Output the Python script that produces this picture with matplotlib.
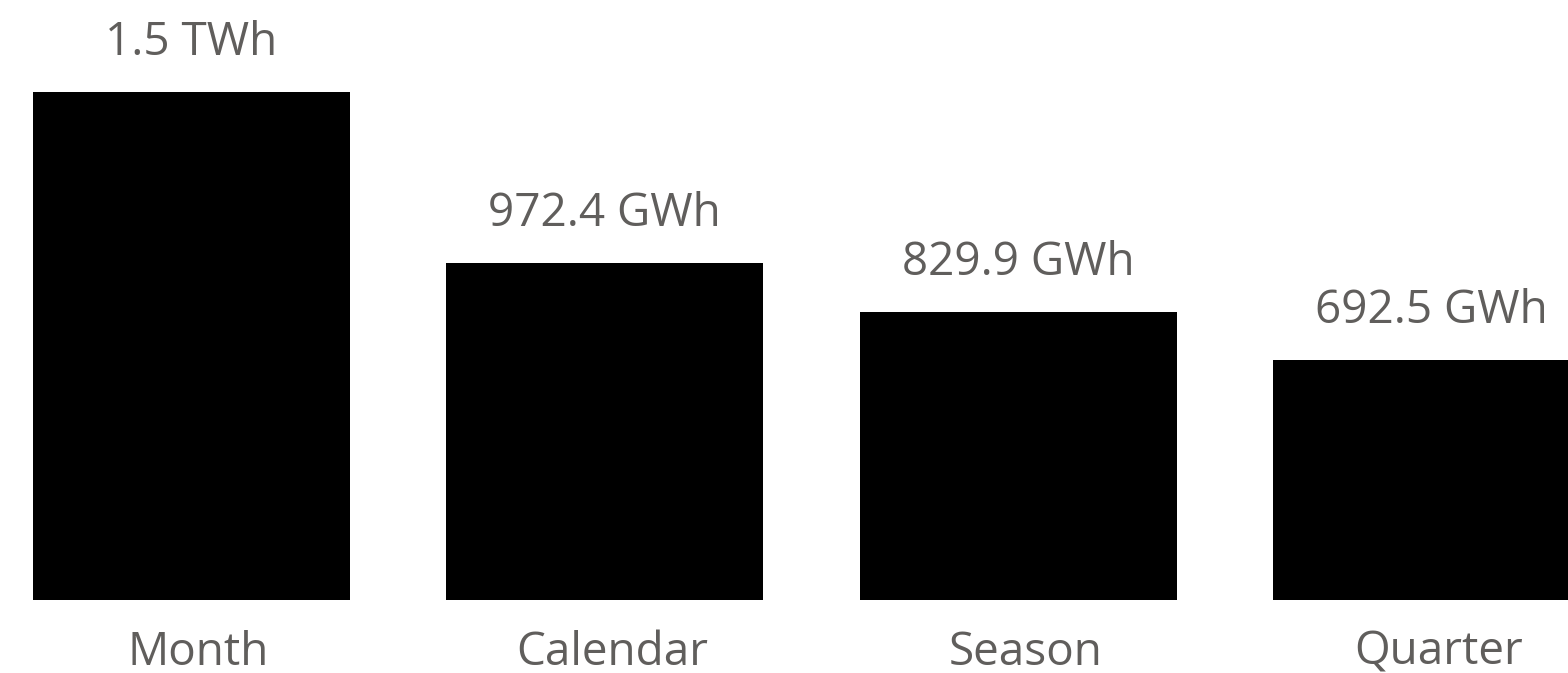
import matplotlib
matplotlib.use('Agg')
import matplotlib.pyplot as plt

plt.rcParams['font.family'] = ['Open Sans', 'DejaVu Sans']

# data (GWh)
categories = ['Month', 'Calendar', 'Season', 'Quarter']
values = [1466.0, 972.4, 829.9, 692.5]
value_labels = ['1.5 TWh', '972.4 GWh', '829.9 GWh', '692.5 GWh']

text_color = '#605E5C'
gwh_per_px = 2.885

fig = plt.figure(figsize=(15.68, 6.73), dpi=100)
ax = fig.add_axes([0, 73 / 673, 1, 600 / 673])

x = list(range(len(categories)))
ax.bar(x, values, width=317 / 413.33, color='black')

ax.set_xlim(-191.5 / 413.33, (1568 - 191.5) / 413.33)
ax.set_ylim(0, 600 * gwh_per_px)
ax.axis('off')

for i, (v, lab) in enumerate(zip(values, value_labels)):
    ax.annotate(lab, xy=(i, v), xytext=(0, 37 * 0.72), textcoords='offset points',
                ha='center', va='baseline', fontsize=33, color=text_color)
    ax.annotate(categories[i], xy=(i, 0), xytext=(7 * 0.72, -65 * 0.72), textcoords='offset points',
                ha='center', va='baseline', fontsize=33, color=text_color,
                annotation_clip=False)

fig.savefig('out.png', dpi=100)
